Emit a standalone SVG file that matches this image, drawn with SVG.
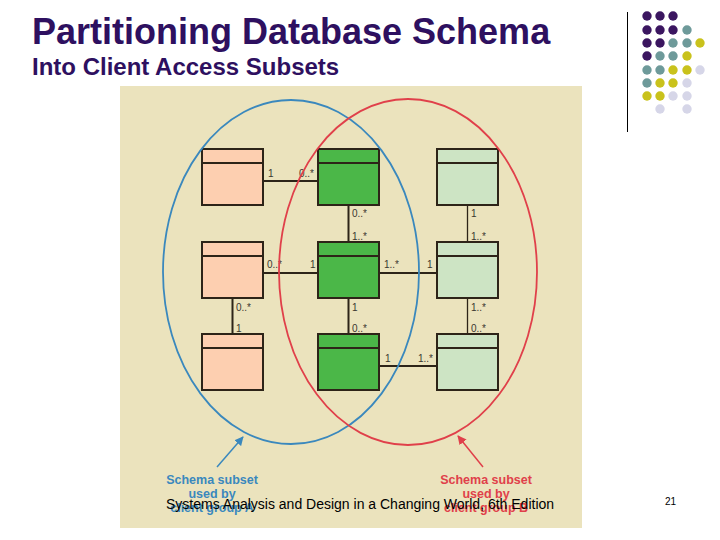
<svg xmlns="http://www.w3.org/2000/svg" width="720" height="540" viewBox="0 0 720 540">
<defs>
<style>
.title{font-family:"Liberation Sans",Arial,sans-serif;font-weight:bold;fill:#2e1060}
.box rect{stroke:#2d2418;stroke-width:2}
.box line{stroke:#2d2418;stroke-width:2}
.pk rect{fill:#fdcfb0}
.gr rect{fill:#4bb748}
.lg rect{fill:#cde4c4}
.conn path{stroke:#2d2418;stroke-width:2;fill:none}
.conn path.thin{stroke-width:1.3}
.lbl{font-family:"Liberation Sans",Arial,sans-serif;font-size:10px;fill:#3a3630}
.cap{font-family:"Liberation Sans",Arial,sans-serif;font-size:12.5px;font-weight:bold;text-anchor:middle}
.d1{fill:#3b1660}.d2{fill:#6e9a9a}.d3{fill:#c9c21c}.d4{fill:#d6d6e8}
</style>
<marker id="ab" viewBox="0 0 10 10" refX="9" refY="5" markerWidth="6" markerHeight="6" orient="auto"><path d="M0,0 L10,5 L0,10 z" fill="#3a88bd"/></marker>
<marker id="ar" viewBox="0 0 10 10" refX="9" refY="5" markerWidth="6" markerHeight="6" orient="auto"><path d="M0,0 L10,5 L0,10 z" fill="#e0404a"/></marker>
</defs>
<rect width="720" height="540" fill="#ffffff"/>
<text class="title" x="32" y="44" font-size="36">Partitioning Database Schema</text>
<text class="title" x="32" y="75" font-size="24">Into Client Access Subsets</text>
<line x1="627.5" y1="12" x2="627.5" y2="132" stroke="#000" stroke-width="1"/>
<g id="dots">
<circle class="d1" cx="647" cy="16" r="4.7"/><circle class="d1" cx="660" cy="16" r="4.7"/><circle class="d1" cx="673" cy="16" r="4.7"/>
<circle class="d1" cx="647" cy="30" r="4.7"/><circle class="d1" cx="660" cy="30" r="4.7"/><circle class="d1" cx="673" cy="30" r="4.7"/><circle class="d2" cx="687" cy="30" r="4.7"/>
<circle class="d1" cx="647" cy="43" r="4.7"/><circle class="d1" cx="660" cy="43" r="4.7"/><circle class="d2" cx="673" cy="43" r="4.7"/><circle class="d2" cx="687" cy="43" r="4.7"/><circle class="d3" cx="700" cy="43" r="4.7"/>
<circle class="d1" cx="647" cy="56" r="4.7"/><circle class="d2" cx="660" cy="56" r="4.7"/><circle class="d2" cx="673" cy="56" r="4.7"/><circle class="d3" cx="687" cy="56" r="4.7"/>
<circle class="d2" cx="647" cy="70" r="4.7"/><circle class="d2" cx="660" cy="70" r="4.7"/><circle class="d3" cx="673" cy="70" r="4.7"/><circle class="d3" cx="687" cy="70" r="4.7"/><circle class="d4" cx="700" cy="70" r="4.7"/>
<circle class="d2" cx="647" cy="83" r="4.7"/><circle class="d3" cx="660" cy="83" r="4.7"/><circle class="d3" cx="673" cy="83" r="4.7"/><circle class="d4" cx="687" cy="83" r="4.7"/>
<circle class="d3" cx="647" cy="96" r="4.7"/><circle class="d3" cx="660" cy="96" r="4.7"/><circle class="d4" cx="673" cy="96" r="4.7"/><circle class="d4" cx="687" cy="96" r="4.7"/>
<circle class="d4" cx="660" cy="109" r="4.7"/><circle class="d4" cx="687" cy="109" r="4.7"/>
</g>
<rect x="120" y="86" width="462" height="442" fill="#ebe3bd"/>
<g id="connectors" class="conn">
<path d="M263,181 H318"/>
<path d="M348.5,205 V242"/>
<path class="thin" d="M467.5,205 V242"/>
<path d="M263,273 H318"/>
<path d="M379,273 H437"/>
<path d="M232.5,298 V334"/>
<path d="M348.5,298 V334"/>
<path class="thin" d="M467.5,298 V334"/>
<path d="M379,366 H437"/>
</g>
<g id="multiplicities">
<text class="lbl" x="268" y="177">1</text><text class="lbl" x="299" y="177">0..*</text>
<text class="lbl" x="352" y="217">0..*</text><text class="lbl" x="352" y="240">1..*</text>
<text class="lbl" x="471" y="217">1</text><text class="lbl" x="471" y="240">1..*</text>
<text class="lbl" x="267" y="268">0..*</text><text class="lbl" x="310" y="268">1</text>
<text class="lbl" x="384" y="268">1..*</text><text class="lbl" x="427" y="268">1</text>
<text class="lbl" x="236" y="311">0..*</text><text class="lbl" x="236" y="332">1</text>
<text class="lbl" x="352" y="311">1</text><text class="lbl" x="352" y="332">0..*</text>
<text class="lbl" x="471" y="311">1..*</text><text class="lbl" x="471" y="332">0..*</text>
<text class="lbl" x="385" y="362">1</text><text class="lbl" x="418" y="362">1..*</text>
</g>
<g id="A1" class="box pk"><rect x="202" y="149" width="61" height="56"/><line x1="202" y1="163" x2="263" y2="163"/></g>
<g id="A2" class="box pk"><rect x="202" y="242" width="61" height="56"/><line x1="202" y1="256" x2="263" y2="256"/></g>
<g id="A3" class="box pk"><rect x="202" y="334" width="61" height="56"/><line x1="202" y1="348" x2="263" y2="348"/></g>
<g id="G1" class="box gr"><rect x="318" y="149" width="61" height="56"/><line x1="318" y1="163" x2="379" y2="163"/></g>
<g id="G2" class="box gr"><rect x="318" y="242" width="61" height="56"/><line x1="318" y1="256" x2="379" y2="256"/></g>
<g id="G3" class="box gr"><rect x="318" y="334" width="61" height="56"/><line x1="318" y1="348" x2="379" y2="348"/></g>
<g id="L1" class="box lg"><rect x="437" y="149" width="61" height="56"/><line x1="437" y1="163" x2="498" y2="163"/></g>
<g id="L2" class="box lg"><rect x="437" y="242" width="61" height="56"/><line x1="437" y1="256" x2="498" y2="256"/></g>
<g id="L3" class="box lg"><rect x="437" y="334" width="61" height="56"/><line x1="437" y1="348" x2="498" y2="348"/></g>
<g id="subsetA">
<ellipse cx="291" cy="272" rx="128" ry="172" fill="none" stroke="#3a88bd" stroke-width="1.8"/>
<line x1="217" y1="467" x2="243" y2="437" stroke="#3a88bd" stroke-width="1.5" marker-end="url(#ab)"/>
<text class="cap" fill="#3a88bd"><tspan x="212" y="484">Schema subset</tspan><tspan x="212" y="498">used by</tspan><tspan x="212" y="512">client group A</tspan></text>
</g>
<g id="subsetB">
<ellipse cx="408" cy="272" rx="129" ry="173" fill="none" stroke="#e0404a" stroke-width="1.8"/>
<line x1="483" y1="467" x2="458" y2="436" stroke="#e0404a" stroke-width="1.5" marker-end="url(#ar)"/>
<text class="cap" fill="#e0404a"><tspan x="486" y="484">Schema subset</tspan><tspan x="486" y="498">used by</tspan><tspan x="486" y="512">client group B</tspan></text>
</g>
<text x="166" y="509" font-family="Liberation Sans,Arial,sans-serif" font-size="14" fill="#000">Systems Analysis and Design in a Changing World, 6th Edition</text>
<text x="665" y="505" font-family="Liberation Sans,Arial,sans-serif" font-size="10" fill="#000">21</text>
</svg>
